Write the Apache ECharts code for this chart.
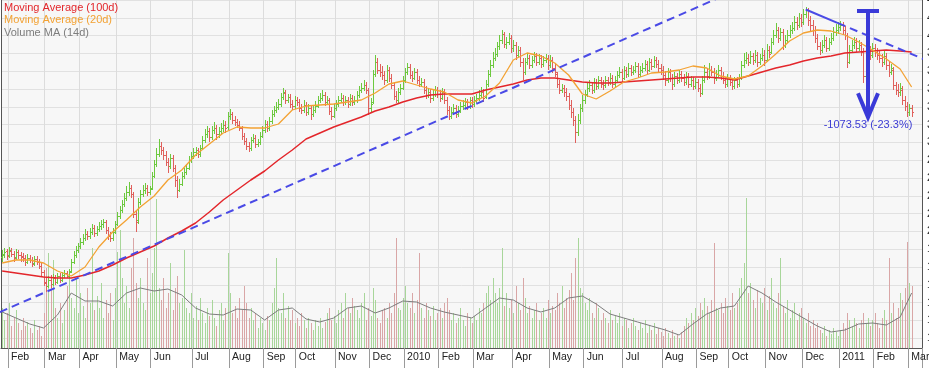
<!DOCTYPE html>
<html><head><meta charset="utf-8">
<script src="https://cdn.jsdelivr.net/npm/echarts@6/dist/echarts.min.js"></script>
<style>html,body{margin:0;padding:0;background:#fff}#c{width:929px;height:368px}</style>
</head><body><div id="c"></div>
<script>
// ---------- data ----------
const monthStarts = [[3,'Feb'],[19,'Mar'],[34,'Apr'],[50,'May'],[65,'Jun'],[83,'Jul'],[99,'Aug'],[114,'Sep'],[128,'Oct'],[145,'Nov'],[160,'Dec'],[175,'2010'],[190,'Feb'],[205,'Mar'],[222,'Apr'],[238,'May'],[253,'Jun'],[270,'Jul'],[287,'Aug'],[302,'Sep'],[316,'Oct'],[332,'Nov'],[348,'Dec'],[364,'2011'],[379,'Feb'],[394,'Mar']];

const opens = [1880,1910,1940,1900,1940,1910,1880,1930,1900,
1890,1870,1830,1870,1850,1820,1860,1830,
1790,1730,1620,1590,
1650,1610,1670,1630,1690,
1650,1700,1720,1690,
1740,1830,1900,1950,1990,
2030,2070,2110,2090,2130,2170,2120,2160,2190,
2210,2230,2150,2090,2070,
2130,2210,2290,2350,2410,
2470,2530,2570,
2510,2310,
2250,2430,2510,2550,2570,2530,
2570,2690,2810,2910,2990,
2950,2900,2830,2790,2870,
2770,2650,2550,
2610,2690,2730,
2770,2850,2890,2930,2950,2910,
2970,3050,3110,3140,3080,3150,3170,3110,3140,3170,3200,
3180,3290,3310,
3250,3230,3200,
3170,3090,3040,2990,2970,3050,3070,3010,3030,
3090,3150,3210,3170,
3240,3310,3350,3380,3410,3480,
3520,3450,3480,3410,3390,3450,3430,
3370,3350,3400,3330,3370,3310,3350,
3390,3450,3470,3500,3430,3450,3340,3290,3370,3410,3450,
3470,3430,3450,3410,3470,3430,
3450,3500,3550,3570,3600,
3550,3370,
3430,3710,3830,3750,
3730,3700,3650,3750,3670,
3600,3490,3450,3530,
3570,3650,3730,3780,3700,3670,3730,3650,3610,
3630,3550,3500,3530,3470,3510,
3550,3510,3470,3530,
3450,3350,3290,3330,3370,3310,3350,
3390,3400,3430,3390,3450,3410,3450,
3470,3500,3530,
3480,3610,3710,3800,3870,
3910,3990,4050,4110,4010,4030,4070,
3970,4000,3900,3950,3830,
3730,3830,3870,3800,3850,3890,3830,3870,3810,3850,
3870,3800,3850,3770,
3710,3610,3550,3570,3530,
3490,3400,3330,3250,
3130,3250,3370,3450,
3510,3570,3600,3550,3630,3590,3650,
3610,3600,3650,3630,3670,3610,
3650,3700,3730,3670,3750,3710,3770,3730,3750,3790,3710,
3750,3770,3810,3750,3830,3790,3850,3810,3770,
3750,3700,3650,3730,3670,3610,3690,3650,
3710,3670,3630,3690,3610,3650,3590,3630,3570,
3520,3650,3730,3690,
3750,3730,3670,3710,3750,3690,3650,3610,3670,3630,3590,3650,3610,
3670,3800,
3850,3870,3830,3890,3850,3900,3830,
3870,3900,3850,3950,
3930,4030,4100,4150,4070,
4130,4000,4050,4100,
4150,4170,4230,4200,4270,
4230,4310,4350,4250,
4200,4150,4070,3990,
3950,4000,4050,3970,
4030,4070,4130,4150,4180,4200,4150,
4100,3830,3950,4000,
4030,3970,4000,3930,3690,
3890,3950,3900,3970,
3930,3900,3870,3830,3890,3800,3730,
3750,3600,3550,3530,
3550,3450,3390,3330,3370];

const highs = [1950,1970,1960,1980,1970,1940,1960,1950,1930,
1920,1900,1910,1900,1880,1890,1890,1860,
1820,1750,1670,1690,
1700,1710,1700,1720,1720,
1730,1750,1740,1760,
1860,1940,1990,2020,2070,
2110,2160,2140,2170,2210,2200,2190,2230,2250,
2260,2250,2180,2130,2170,
2240,2330,2390,2450,2520,
2590,2630,2600,
2530,2350,
2470,2550,2600,2620,2600,2590,
2730,2850,2970,3060,3030,
2980,2940,2870,2910,2900,
2800,2690,2660,
2730,2770,2810,
2890,2930,2970,2980,2970,3000,
3090,3160,3190,3170,3190,3230,3200,3180,3220,3250,3240,
3330,3360,3330,
3290,3260,3240,
3190,3120,3070,3030,3080,3110,3100,3060,3130,
3190,3250,3240,3280,
3350,3390,3430,3460,3520,3570,
3550,3510,3510,3450,3490,3480,3460,
3410,3450,3430,3410,3400,3390,3440,
3490,3520,3550,3530,3490,3470,3380,3410,3450,3490,3520,
3500,3490,3480,3510,3500,3490,
3540,3590,3620,3650,3630,
3570,3470,
3750,3900,3870,3810,
3790,3740,3800,3780,3710,
3630,3540,3570,3610,
3690,3770,3820,3810,3740,3770,3760,3690,3670,
3660,3590,3570,3560,3550,3590,
3580,3550,3570,3560,
3480,3390,3380,3410,3400,3390,3430,
3450,3470,3460,3480,3480,3490,3510,
3550,3580,3560,
3650,3750,3850,3930,3970,
4030,4100,4150,4130,4080,4120,4100,
4050,4030,3990,3980,3870,
3870,3920,3900,3890,3930,3920,3910,3900,3890,3910,
3900,3900,3880,3810,
3730,3650,3610,3600,3570,
3520,3450,3370,3290,
3310,3410,3500,3550,
3620,3650,3630,3670,3660,3690,3680,
3650,3690,3680,3720,3700,3690,
3740,3780,3760,3790,3780,3820,3800,3790,3830,3820,3790,
3820,3850,3840,3870,3860,3890,3880,3850,3810,
3790,3740,3770,3760,3710,3730,3720,3750,
3740,3710,3730,3720,3690,3680,3670,3660,3610,
3690,3800,3770,3820,
3790,3770,3750,3800,3780,3730,3680,3710,3700,3660,3680,3680,3710,
3840,3920,
3930,3910,3940,3920,3950,3930,3910,
3970,3950,4010,3990,
4070,4150,4220,4180,4170,
4160,4100,4150,4200,
4230,4290,4280,4320,4310,
4360,4380,4370,4290,
4250,4190,4110,4030,
4050,4100,4080,4070,
4120,4180,4210,4230,4240,4230,4190,
4120,4000,4050,4080,
4070,4050,4030,3970,3930,
4000,3990,4020,4010,
3970,3950,3910,3940,3920,3840,3810,
3780,3630,3610,3620,
3590,3490,3430,3410,3400];

const lows = [1830,1870,1850,1870,1880,1830,1850,1860,1830,
1830,1790,1810,1820,1780,1790,1800,1760,
1690,1590,1530,1570,
1570,1590,1600,1610,1620,
1630,1670,1670,1670,
1720,1810,1870,1920,1960,
2000,2040,2050,2060,2100,2080,2090,2130,2150,
2170,2110,2050,2030,2040,
2110,2190,2260,2320,2380,
2440,2490,2470,
2270,2130,
2210,2400,2480,2510,2490,2500,
2550,2670,2780,2880,2900,
2850,2790,2720,2760,2730,
2580,2470,2530,
2590,2660,2700,
2750,2820,2860,2890,2870,2880,
2950,3020,3070,3030,3050,3110,3050,3070,3100,3130,3120,
3150,3250,3210,
3190,3170,3140,
3050,3000,2950,2930,2940,3020,2970,2980,3000,
3070,3120,3130,3140,
3210,3280,3320,3350,3380,3450,
3410,3420,3370,3350,3360,3390,3330,
3310,3320,3290,3300,3250,3280,3320,
3370,3420,3440,3390,3400,3300,3250,3270,3340,3380,3420,
3390,3400,3370,3390,3390,3400,
3420,3470,3520,3540,3510,
3300,3330,
3410,3680,3710,3680,
3650,3600,3620,3630,3560,
3450,3420,3420,3500,
3550,3620,3700,3660,3630,3650,3610,3580,3580,
3510,3460,3470,3420,3440,3480,
3470,3430,3450,3410,
3300,3250,3260,3300,3270,3280,3320,
3350,3370,3350,3360,3370,3380,3420,
3440,3470,3430,
3460,3580,3680,3770,3840,
3880,3950,4010,3970,3960,4000,3920,
3930,3850,3870,3780,3650,
3700,3800,3760,3770,3820,3790,3800,3770,3780,3820,
3750,3770,3720,3680,
3570,3510,3520,3480,3440,
3350,3270,3190,3020,
3090,3210,3330,3410,
3480,3530,3510,3520,3550,3560,3570,
3550,3570,3590,3600,3570,3580,
3620,3670,3630,3650,3670,3680,3690,3700,3720,3670,3680,
3720,3740,3710,3730,3750,3770,3770,3730,3700,
3650,3590,3620,3630,3550,3580,3610,3620,
3630,3590,3600,3570,3580,3550,3560,3530,3480,
3500,3620,3650,3660,
3690,3610,3640,3680,3650,3610,3570,3580,3590,3550,3560,3570,3580,
3650,3770,
3810,3790,3810,3800,3820,3780,3800,
3840,3790,3830,3870,
3910,4000,4070,4020,4040,
3950,3970,4020,4070,
4110,4140,4150,4170,4180,
4200,4270,4190,4130,
4090,4020,3950,3900,
3920,3970,3930,3940,
4000,4040,4090,4110,4140,4100,4050,
3770,3810,3920,3960,
3930,3940,3890,3620,3670,
3860,3850,3870,3880,
3850,3820,3780,3800,3750,3680,3700,
3550,3500,3480,3490,
3400,3340,3280,3290,3280];

const closes = [1900,1930,1890,1950,1910,1870,1930,1900,1880,
1870,1830,1870,1850,1810,1860,1830,1790,
1730,1630,1590,1650,
1610,1670,1630,1690,1650,
1700,1720,1690,1730,
1830,1900,1950,1990,2030,
2070,2110,2090,2130,2170,2120,2160,2190,2210,
2230,2150,2090,2070,2130,
2210,2290,2350,2410,2470,
2530,2570,2510,
2310,2230,
2430,2510,2550,2570,2530,2560,
2690,2810,2910,2990,2950,
2900,2830,2790,2870,2770,
2650,2550,2610,
2690,2730,2770,
2850,2890,2930,2950,2910,2970,
3050,3110,3140,3080,3150,3170,3110,3140,3170,3200,3170,
3290,3310,3250,
3230,3200,3170,
3090,3040,2990,2970,3050,3070,3010,3030,3090,
3150,3210,3170,3240,
3310,3350,3380,3410,3480,3530,
3450,3480,3410,3390,3450,3430,3370,
3350,3400,3330,3370,3310,3350,3390,
3450,3470,3500,3430,3450,3340,3290,3370,3410,3450,3470,
3430,3450,3410,3470,3430,3450,
3500,3550,3570,3600,3550,
3370,3410,
3710,3830,3750,3730,
3700,3650,3750,3670,3600,
3490,3450,3530,3570,
3650,3730,3780,3700,3670,3730,3650,3610,3630,
3550,3500,3530,3470,3510,3550,
3510,3470,3530,3450,
3350,3290,3330,3370,3310,3350,3390,
3400,3430,3390,3450,3410,3450,3470,
3500,3530,3470,
3610,3710,3800,3870,3910,
3990,4050,4110,4010,4030,4070,3970,
4000,3900,3950,3830,3730,
3830,3870,3800,3850,3890,3830,3870,3810,3850,3870,
3800,3850,3770,3730,
3610,3550,3570,3530,3490,
3400,3330,3250,3130,
3250,3370,3450,3510,
3570,3600,3550,3630,3590,3650,3610,
3600,3650,3630,3670,3610,3650,
3700,3730,3670,3750,3710,3770,3730,3750,3790,3710,3750,
3770,3810,3750,3830,3790,3850,3810,3770,3750,
3700,3650,3730,3670,3610,3690,3650,3710,
3670,3630,3690,3610,3650,3590,3630,3570,3520,
3650,3730,3690,3750,
3730,3670,3710,3750,3690,3650,3610,3670,3630,3590,3650,3610,3670,
3800,3850,
3870,3830,3890,3850,3900,3830,3870,
3900,3850,3950,3910,
4030,4100,4150,4070,4130,
4000,4050,4100,4150,
4170,4230,4200,4270,4230,
4310,4350,4250,4200,
4150,4070,3990,3950,
4000,4050,3970,4030,
4070,4130,4150,4180,4200,4150,4100,
3830,3950,4000,4030,
3970,4000,3930,3690,3890,
3950,3900,3970,3930,
3900,3870,3830,3890,3800,3730,3770,
3600,3550,3530,3570,
3450,3390,3330,3370,3330];

const volumes = [400,280,350,450,220,300,380,250,180,300,220,260,
200,150,280,180,220,120,350,800,950,600,880,400,
300,450,250,380,620,750,500,400,700,350,550,420,
300,600,450,1000,380,520,400,650,300,480,350,550,
280,600,960,1180,700,450,620,400,800,1100,650,500,
700,450,380,900,550,750,1000,1490,600,480,700,400,
550,850,380,600,720,450,500,980,400,350,550,300,
420,280,500,350,250,400,320,480,300,220,380,450,
280,400,950,550,350,420,300,500,380,620,450,300,
400,280,350,200,300,250,180,320,280,450,600,900,
400,350,550,300,420,280,380,250,300,220,350,280,
200,300,250,180,280,220,300,200,260,350,400,280,
320,250,380,450,300,550,400,350,500,420,380,300,
450,550,280,400,320,600,480,300,250,380,400,300,
450,350,550,1100,400,380,500,620,450,400,550,350,
480,950,400,300,450,380,320,420,280,350,400,300,
450,500,380,280,350,250,300,400,280,220,350,300,
250,320,280,400,350,450,550,620,480,700,550,450,
600,1000,420,550,400,480,350,620,450,380,700,500,
350,420,300,380,450,280,350,400,300,480,350,420,
380,550,450,620,400,500,580,750,480,900,1100,600,
550,450,380,500,350,300,450,400,280,350,300,250,
380,280,320,250,350,220,300,280,200,250,300,220,
180,250,200,280,150,220,180,250,140,200,160,120,
200,150,100,180,120,140,100,160,220,300,250,350,
280,400,320,450,380,500,420,350,480,1050,400,380,
450,350,500,420,380,550,400,450,600,700,850,1500,
550,650,480,400,580,500,450,600,380,520,700,450,
400,550,900,420,350,480,300,380,450,280,350,400,
300,250,350,220,280,200,250,180,150,220,120,180,
140,200,160,120,180,250,200,350,280,220,300,250,
200,280,350,250,300,220,280,350,250,200,300,380,
280,900,350,450,300,400,550,480,600,1060,650,620];

const maIndex = [0,6,12,18,24,30,36,42,48,54,60,66,72,78,84,90,96,102,108,114,120,126,132,138,144,150,156,162,168,174,180,186,192,198,204,210,216,222,228,234,240,246,252,258,264,270,276,282,288,294,300,306,312,318,324,330,336,342,348,354,360,366,372,378,384,390,395];
const ma100 = [1740,1720,1700,1680,1670,1670,1700,1740,1800,1870,1930,1990,2070,2140,2220,2330,2450,2550,2650,2740,2850,2950,3060,3120,3180,3230,3280,3340,3380,3430,3470,3500,3510,3510,3510,3550,3580,3610,3650,3670,3670,3650,3630,3620,3620,3630,3640,3650,3660,3670,3680,3680,3670,3650,3690,3730,3770,3800,3840,3870,3890,3920,3930,3940,3950,3940,3930];
const ma20 = [1820,1850,1850,1820,1740,1690,1780,1980,2130,2250,2380,2490,2650,2750,2900,3010,3120,3180,3170,3170,3210,3350,3390,3400,3410,3430,3450,3520,3610,3640,3600,3560,3530,3450,3420,3490,3620,3850,3920,3890,3820,3700,3510,3460,3540,3630,3670,3720,3730,3750,3790,3770,3690,3660,3690,3790,3910,4040,4120,4150,4140,4100,4030,3950,3860,3760,3580];
const volMa14 = [360,300,240,200,330,550,470,470,420,550,600,570,590,530,400,340,330,390,380,280,380,400,290,260,300,400,420,350,400,470,460,400,360,330,300,400,500,480,400,360,400,500,520,440,340,300,260,220,180,130,240,340,400,420,620,550,460,380,300,220,160,180,240,250,230,310,550];

// trend lines [bar index, price]
const trendUp = [[-1,1329],[310,4459]];
const trendDownSolid = [[349,4355],[363,4219]];
const trendDownDashed = [[363,4219],[400,3861]];
// drop annotation: [bar index, top price, bottom price]
const dropMark = [[376,4340,3266.47]];
const dropLabel = '-1073.53 (-23.3%)';

const legendItems = [['Moving Average (100d)','#e3262b'],['Moving Average (20d)','#f3a233'],['Volume MA (14d)','#7d7d7d']];

// ---------- chart ----------
const N = 400;
const FONT = '"Liberation Sans", Arial, sans-serif';
const UP = '#6dc93e', DOWN = '#e0605c', VUP = '#a8d69a', VDOWN = '#d9a6a6';
const categories = Array.from({length: N}, (_, i) => String(i));
const labelMap = {};
monthStarts.forEach(([i, t]) => { labelMap[i] = t; });
const isMonth = (idx) => labelMap[idx] !== undefined;

const n = Math.min(opens.length, highs.length, lows.length, closes.length, volumes.length);
const ohlc = [], vol = [];
for (let i = 0; i < n; i++) {
  ohlc.push([i, opens[i], highs[i], lows[i], closes[i]]);
  vol.push([i, volumes[i], closes[i] >= opens[i] ? 1 : 0]);
}
const pairs = (arr) => arr.map((v, k) => [maIndex[k], v]);

const chart = echarts.init(document.getElementById('c'), null, {renderer: 'canvas'});
chart.setOption({
  animation: false,
  backgroundColor: '#ffffff',
  grid: [
    {left: 1, right: 7, top: 0, height: 356, show: false, containLabel: false, outerBoundsMode: 'none'},
    {left: 1, right: 7, top: 0, bottom: 20, show: true, backgroundColor: '#f7f7f7', borderWidth: 0, z: -1, containLabel: false, outerBoundsMode: 'none'}
  ],
  xAxis: [
    {gridIndex: 0, type: 'category', data: categories, boundaryGap: true, show: false},
    {gridIndex: 1, type: 'category', data: categories, boundaryGap: true,
      axisLine: {show: true, onZero: false, lineStyle: {color: '#555', width: 1}},
      axisTick: {show: true, interval: (i) => isMonth(i), length: 20, lineStyle: {color: '#9a9a9a'}},
      axisLabel: {show: true, interval: (i) => isMonth(i), formatter: (v) => labelMap[v] || '',
        align: 'left', margin: 4, padding: [0, 0, 0, 2], fontSize: 10.5, color: '#222', fontFamily: FONT},
      splitLine: {show: true, interval: (i) => isMonth(i), lineStyle: {color: '#dcdcdc', width: 1}}}
  ],
  yAxis: [
    {gridIndex: 0, type: 'value', min: 890, max: 4450, interval: 178, position: 'right',
      axisLine: {show: false}, axisTick: {show: false},
      axisLabel: {show: true, margin: 5, fontSize: 11, color: '#222', fontFamily: FONT, showMinLabel: false},
      splitLine: {show: true, showMinLine: false, lineStyle: {color: '#e1e1e1', width: 1}}},
    {gridIndex: 1, type: 'value', min: 0, max: 3480, position: 'left',
      axisLine: {show: true, lineStyle: {color: '#555', width: 1}}, axisTick: {show: false},
      axisLabel: {show: false}, splitLine: {show: false}},
    {gridIndex: 1, type: 'value', min: 0, max: 1, position: 'right',
      axisLine: {show: true, lineStyle: {color: '#555', width: 1}}, axisTick: {show: false},
      axisLabel: {show: false}, splitLine: {show: false}}
  ],
  graphic: legendItems.map(([t, c], k) => ({
    type: 'text', left: 4, top: 2 + k * 12.5, z: 10,
    style: {text: t, fill: c, font: '11px ' + FONT}
  })),
  series: [
    {type: 'custom', name: 'Volume', xAxisIndex: 1, yAxisIndex: 1, data: vol, z: 1,
      encode: {x: 0, y: 1},
      renderItem: (params, api) => {
        const i = api.value(0);
        const top = api.coord([i, api.value(1)]);
        const base = api.coord([i, 0]);
        const x = Math.round(top[0]) + 0.5;
        return {type: 'line', shape: {x1: x, y1: base[1], x2: x, y2: top[1]},
          style: {stroke: api.value(2) ? VUP : VDOWN, lineWidth: 1}};
      }},
    {type: 'line', name: 'Volume MA (14d)', xAxisIndex: 1, yAxisIndex: 1, data: pairs(volMa14),
      symbol: 'none', z: 2, lineStyle: {color: '#7d7d7d', width: 1}},
    {type: 'custom', name: 'Price', xAxisIndex: 0, yAxisIndex: 0, data: ohlc, z: 3,
      encode: {x: 0, y: [1, 2, 3, 4]},
      renderItem: (params, api) => {
        const i = api.value(0);
        const o = api.coord([i, api.value(1)]);
        const h = api.coord([i, api.value(2)]);
        const l = api.coord([i, api.value(3)]);
        const c = api.coord([i, api.value(4)]);
        const color = api.value(4) >= api.value(1) ? UP : DOWN;
        const x = Math.round(o[0]) + 0.5;
        const st = {stroke: color, lineWidth: 1};
        return {type: 'group', children: [
          {type: 'line', shape: {x1: x, y1: h[1], x2: x, y2: l[1]}, style: st},
          {type: 'line', shape: {x1: x - 1.5, y1: Math.round(o[1]) + 0.5, x2: x, y2: Math.round(o[1]) + 0.5}, style: st},
          {type: 'line', shape: {x1: x, y1: Math.round(c[1]) + 0.5, x2: x + 1.5, y2: Math.round(c[1]) + 0.5}, style: st}
        ]};
      }},
    {type: 'line', name: 'Moving Average (100d)', xAxisIndex: 0, yAxisIndex: 0, data: pairs(ma100),
      symbol: 'none', z: 4, lineStyle: {color: '#e3262b', width: 1.5}},
    {type: 'line', name: 'Moving Average (20d)', xAxisIndex: 0, yAxisIndex: 0, data: pairs(ma20),
      symbol: 'none', z: 5, lineStyle: {color: '#f3a233', width: 1.3}},
    {type: 'line', xAxisIndex: 0, yAxisIndex: 0, data: trendUp, symbol: 'none', z: 6, clip: true,
      lineStyle: {color: '#4a4ae6', width: 2, type: [8, 5]}},
    {type: 'line', xAxisIndex: 0, yAxisIndex: 0, data: trendDownSolid, symbol: 'none', z: 6, clip: true,
      lineStyle: {color: '#4a4ae6', width: 2}},
    {type: 'line', xAxisIndex: 0, yAxisIndex: 0, data: trendDownDashed, symbol: 'none', z: 6, clip: true,
      lineStyle: {color: '#4a4ae6', width: 2, type: [8, 5]}},
    {type: 'custom', xAxisIndex: 0, yAxisIndex: 0, data: dropMark, z: 7,
      encode: {x: 0, y: [1, 2]},
      renderItem: (params, api) => {
        const i = api.value(0);
        const t = api.coord([i, api.value(1)]);
        const b = api.coord([i, api.value(2)]);
        const x = Math.round(t[0]);
        const col = '#3a3ad8';
        const st = {stroke: col, lineWidth: 4, fill: null};
        return {type: 'group', children: [
          {type: 'line', shape: {x1: x - 11, y1: t[1], x2: x + 11, y2: t[1]}, style: st},
          {type: 'line', shape: {x1: x, y1: t[1], x2: x, y2: b[1] - 2}, style: st},
          {type: 'polyline', shape: {points: [[x - 10, b[1] - 25], [x, b[1] - 1], [x + 10, b[1] - 25]]}, style: st},
          {type: 'text', x: x, y: b[1] + 1, style: {text: dropLabel, fill: '#3c3cd4', font: '11px ' + FONT, align: 'center', verticalAlign: 'top'}}
        ]};
      }}
  ]
});
</script>
</body></html>
